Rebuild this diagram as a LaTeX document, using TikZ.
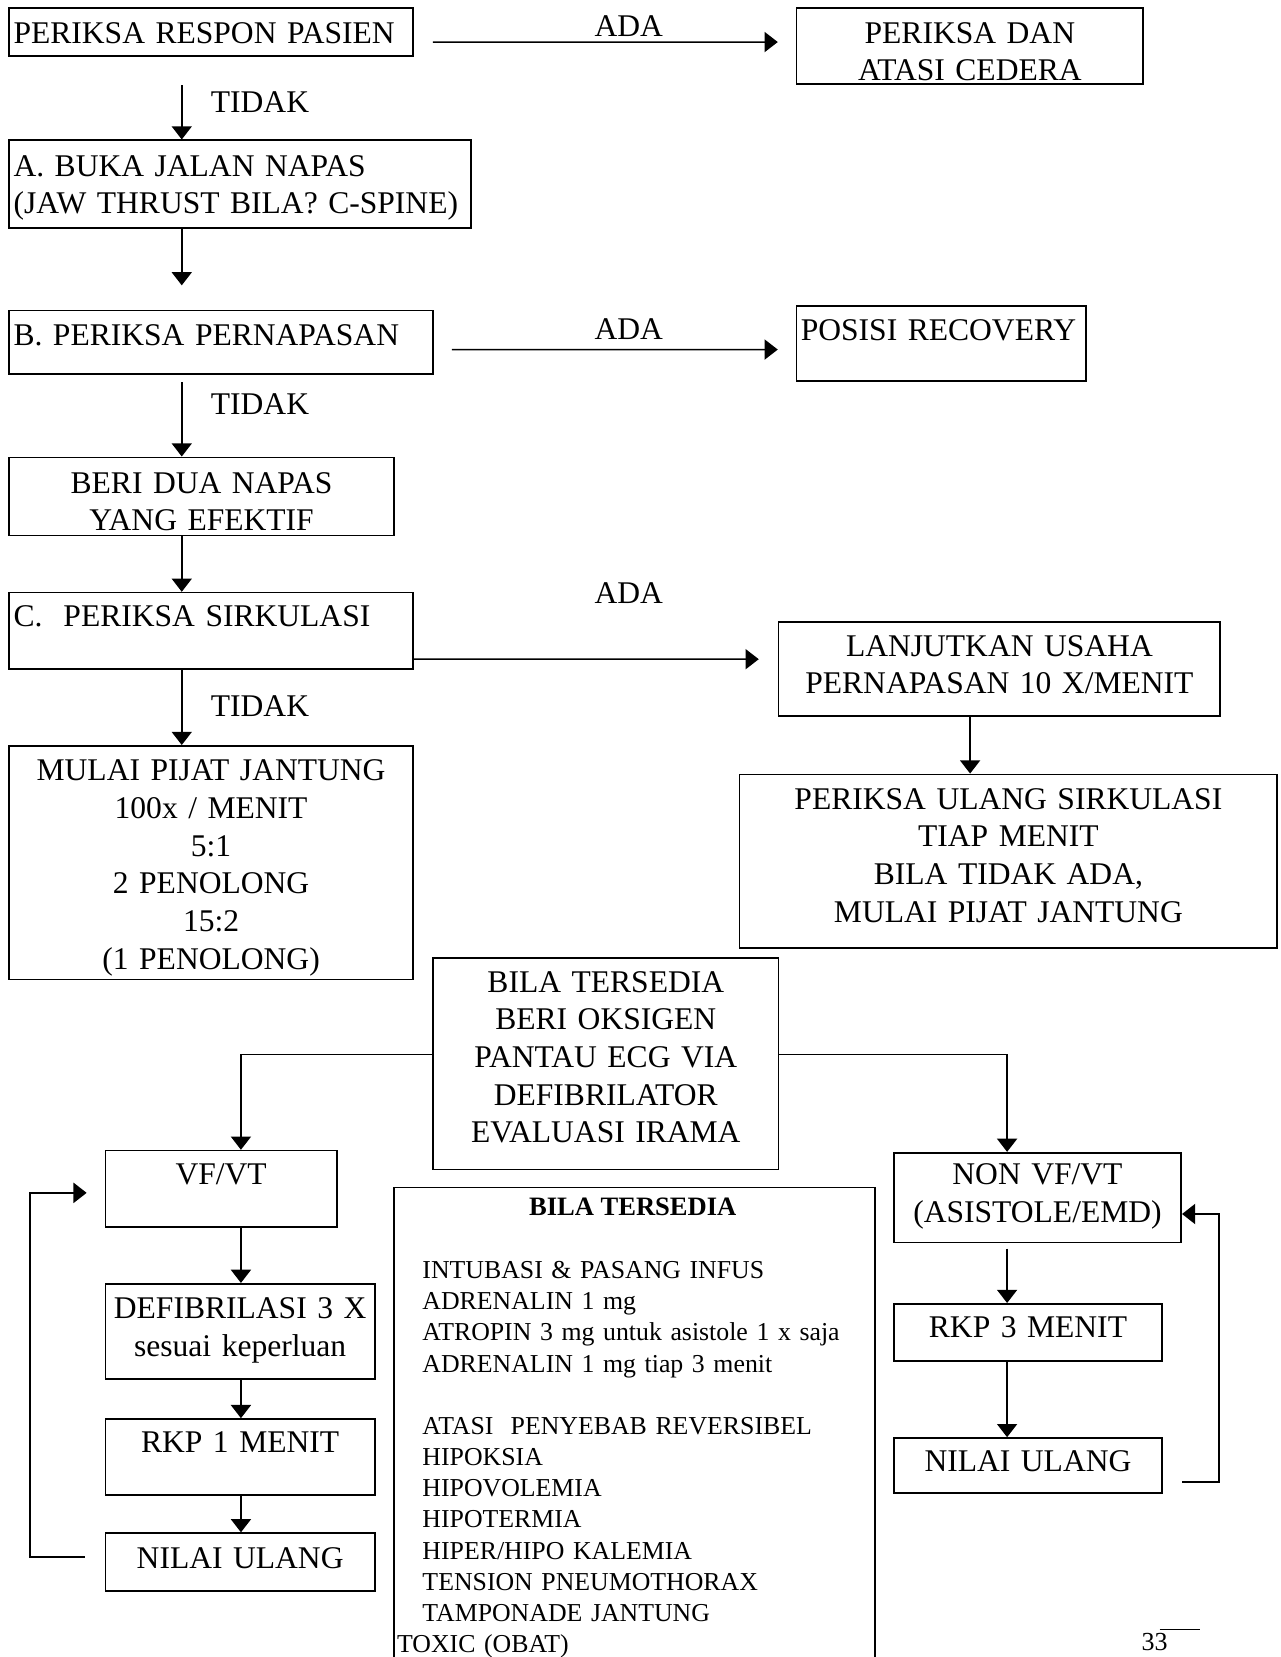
\documentclass[tikz,border=0pt]{standalone}
\usepackage{fontspec}
\setmainfont{Liberation Serif}
\usetikzlibrary{arrows.meta,positioning}
\newcommand{\flowfont}{\fontsize{17}{20.3}\selectfont}
\newcommand{\listfont}{\fontsize{13.9}{16.8}\selectfont}
\tikzset{
  box/.style={rectangle, draw=black, line width=0.9pt, anchor=north west, inner ysep=0pt, font=\flowfont},
  boxl/.style={box, align=left, inner xsep=0.08cm},
  boxc/.style={box, align=center, inner xsep=0pt},
  lbl/.style={inner sep=0pt, font=\flowfont},
  flow/.style={-{Triangle[length=2.5mm,width=3.8mm]}, line width=0.8pt},
  back/.style={flow, line width=1.1pt},
}
\begin{document}
\begin{tikzpicture}[x=0.02cm, y=-0.02cm]
  \useasboundingbox (0,0) rectangle (1212,1568);
  % x positions of the vertical arrows
  \coordinate (lspine) at (172,0);
  \coordinate (mspine) at (228,0);
  \coordinate (uspine) at (918,0);
  \coordinate (rspine) at (953,0);

  % left column
  \node[boxl, text width=7.48cm, text height=0.66cm, text depth=0.24cm] (resp) at (8,7) {PERIKSA RESPON PASIEN};
  \node[boxl, text width=8.58cm, text height=0.68cm, text depth=0.98cm] (buka) at (8,132) {A. BUKA JALAN NAPAS\\(JAW THRUST BILA? C-SPINE)};
  \node[boxl, text width=7.86cm, text height=0.66cm, text depth=0.54cm] (nafas) at (8,293) {B. PERIKSA PERNAPASAN};
  \node[boxc, text width=7.28cm, text height=0.68cm, text depth=0.80cm] (dua) at (8,432) {BERI DUA NAPAS\\YANG EFEKTIF};
  \node[boxl, text width=7.48cm, text height=0.64cm, text depth=0.80cm] (sirk) at (8,560) {C.\ \ PERIKSA SIRKULASI};
  \node[boxc, text width=7.64cm, text height=0.66cm, text depth=3.76cm] (pijat) at (8,705) {MULAI PIJAT JANTUNG\\100x / MENIT\\5:1\\2 PENOLONG\\15:2\\(1 PENOLONG)};

  % right column
  \node[boxc, text width=6.56cm, text height=0.66cm, text depth=0.78cm] (cedera) at (753,7) {PERIKSA DAN\\ATASI CEDERA};
  \node[boxl, text width=5.32cm, text height=0.64cm, text depth=0.78cm] (recov) at (753,289) {POSISI RECOVERY};
  \node[boxc, text width=8.36cm, text height=0.64cm, text depth=1.14cm] (lanjut) at (736,588) {LANJUTKAN USAHA\\PERNAPASAN 10 X/MENIT};
  \node[boxc, text width=10.18cm, text height=0.66cm, text depth=2.62cm] (ulang) at (699,732) {PERIKSA ULANG SIRKULASI\\TIAP MENIT\\BILA TIDAK ADA,\\MULAI PIJAT JANTUNG};

  % rhythm part
  \node[boxc, text width=6.54cm, text height=0.64cm, text depth=3.36cm] (oksi) at (409,906) {BILA TERSEDIA\\BERI OKSIGEN\\PANTAU ECG VIA\\DEFIBRILATOR\\EVALUASI IRAMA};
  \node[boxc, text width=4.38cm, text height=0.64cm, text depth=0.80cm] (vf) at (99,1088) {VF/VT};
  \node[boxc, text width=5.10cm, text height=0.66cm, text depth=1.14cm] (defib) at (99,1214) {DEFIBRILASI 3 X\\sesuai keperluan};
  \node[boxc, text width=5.10cm, text height=0.64cm, text depth=0.80cm] (rkp1) at (99,1342) {RKP 1 MENIT};
  \node[boxc, text width=5.10cm, text height=0.66cm, text depth=0.44cm] (nilai1) at (99,1450) {NILAI ULANG};
  \node[boxc, text width=5.44cm, text height=0.60cm, text depth=1.10cm] (nonvf) at (845,1090) {NON VF/VT\\(ASISTOLE/EMD)};
  \node[boxc, text width=5.08cm, text height=0.64cm, text depth=0.44cm] (rkp3) at (845,1233) {RKP 3 MENIT};
  \node[boxc, text width=5.08cm, text height=0.64cm, text depth=0.40cm] (nilai2) at (845,1360) {NILAI ULANG};
  \node[boxl, font=\listfont, inner xsep=0.06cm, text width=8.98cm, text height=1.72cm, text depth=7.42cm] (bila) at (372,1123)
    {\hspace*{0.48cm}INTUBASI \& PASANG INFUS\\
     \hspace*{0.48cm}ADRENALIN 1 mg\\
     \hspace*{0.48cm}ATROPIN 3 mg untuk asistole 1 x saja\\
     \hspace*{0.48cm}ADRENALIN 1 mg tiap 3 menit\\[16.8pt]
     \hspace*{0.48cm}ATASI\ \ PENYEBAB REVERSIBEL\\
     \hspace*{0.48cm}HIPOKSIA\\
     \hspace*{0.48cm}HIPOVOLEMIA\\
     \hspace*{0.48cm}HIPOTERMIA\\
     \hspace*{0.48cm}HIPER/HIPO KALEMIA\\
     \hspace*{0.48cm}TENSION PNEUMOTHORAX\\
     \hspace*{0.48cm}TAMPONADE JANTUNG\\
     TOXIC (OBAT)};
  \node[font=\fontsize{14.3}{16.8}\selectfont\bfseries, inner sep=0pt, anchor=base] (bilat) at ([shift={(-1.5,27)}]bila.north) {BILA TERSEDIA};

  % labels
  \node[lbl] (ada1) at (595,25) {ADA};
  \node[lbl] (ada2) at (595,311) {ADA};
  \node[lbl] (ada3) at (595,561) {ADA};
  \node[lbl] (tidak1) at (246,97) {TIDAK};
  \node[lbl] (tidak2) at (246,382) {TIDAK};
  \node[lbl] (tidak3) at (246,668) {TIDAK};

  % arrows
  \draw[flow] ([shift={(18,9.5)}]resp.east) -- ([shift={(-17,-4)}]cedera.west);
  \draw[flow] ([yshift=-0.54cm]resp.south -| lspine) -- (buka.north -| lspine);
  \draw[flow] (buka.south -| lspine) -- ([yshift=0.46cm]nafas.north -| lspine);
  \draw[flow] ([shift={(17,7)}]nafas.east) -- ([shift={(-17,5.5)}]recov.west);
  \draw[flow] ([yshift=-0.14cm]nafas.south -| lspine) -- (dua.north -| lspine);
  \draw[flow] (dua.south -| lspine) -- (sirk.north -| lspine);
  \draw[flow] ([shift={(0,27)}]sirk.east) -- ([shift={(-18,-9.5)}]lanjut.west);
  \draw[flow] (lanjut.south -| uspine) -- (ulang.north -| uspine);
  \draw[flow] (sirk.south -| lspine) -- (pijat.north -| lspine);
  \draw[flow] ([shift={(0,-9)}]oksi.west) -| (vf.north -| mspine);
  \draw[flow] ([shift={(0,-9)}]oksi.east) -| (nonvf.north -| rspine);
  \draw[flow] (vf.south -| mspine) -- (defib.north -| mspine);
  \draw[flow] (defib.south -| mspine) -- (rkp1.north -| mspine);
  \draw[flow] (rkp1.south -| mspine) -- (nilai1.north -| mspine);
  \draw[back] ([shift={(-19,-4.5)}]nilai1.west) -- ++(-52,0) |- ([shift={(-17,4)}]vf.west);
  \draw[flow] ([yshift=-0.1cm]nonvf.south -| rspine) -- (rkp3.north -| rspine);
  \draw[flow] (rkp3.south -| rspine) -- (nilai2.north -| rspine);
  \draw[back] ([shift={(18,16)}]nilai2.east) -- ++(35,0) |- ([shift={(0,15.5)}]nonvf.east);

  % page number
  \node[inner sep=0pt, anchor=north west, font=\fontsize{14}{16}\selectfont] (page) at (1080,1545) {33};
  \draw[line width=0.8pt] ([shift={(-8,-3)}]page.north east) -- ++(38,0);
\end{tikzpicture}
\end{document}
